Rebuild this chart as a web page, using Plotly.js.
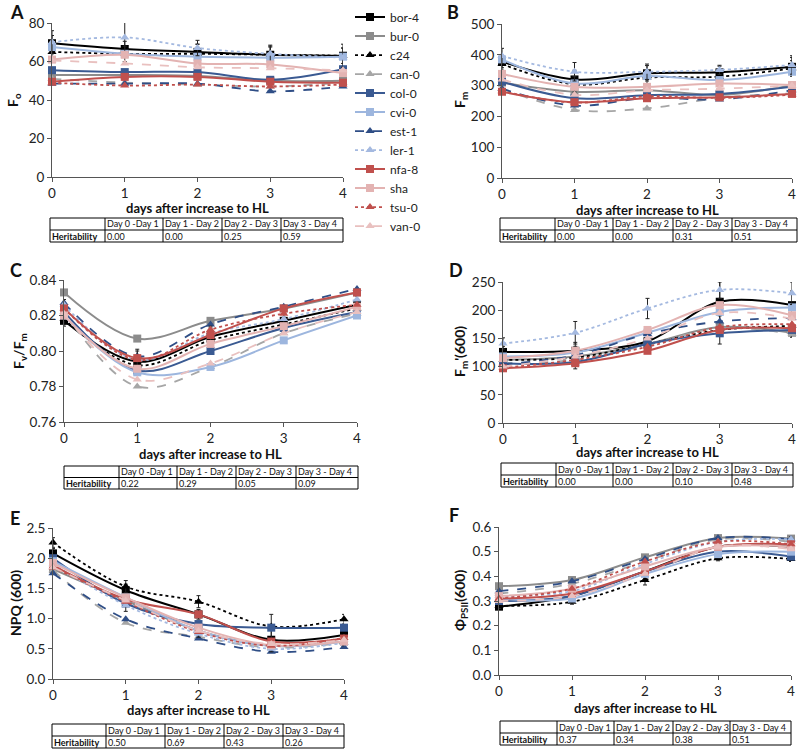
<!DOCTYPE html>
<html><head><meta charset="utf-8">
<script src="https://cdn.plot.ly/plotly-3.0.1.min.js"></script>
<style>body{margin:0;padding:0;background:#fff}#chart{width:798px;height:750px}</style>
</head><body><div id="chart"></div>
<script>
// ---------- DATA ----------
const days = [0, 1, 2, 3, 4];
const accessions = ["bor-4","bur-0","c24","can-0","col-0","cvi-0","est-1","ler-1","nfa-8","sha","tsu-0","van-0"];

// Panel A: Fo
const foValues = [
  [69.5, 66.5, 65, 63.5, 63],
  [53, 53, 52.5, 50, 50],
  [65, 64, 64, 63.5, 63],
  [51, 49, 48, 47, 49],
  [55.5, 54.5, 54.5, 50.5, 56],
  [67.5, 64, 62.5, 62, 62.5],
  [48.5, 48.5, 48.5, 44.5, 47],
  [70, 72.5, 67, 64, 62],
  [49.5, 52, 52, 49.5, 49],
  [61, 63.5, 59, 58.5, 54],
  [49, 47.5, 48, 47, 48],
  [60.5, 59, 57, 56.5, 55.5]
];
// Panel B: Fm
const fmValues = [
  [378, 320, 340, 343, 361],
  [310, 280, 285, 270, 300],
  [370, 304, 326, 329, 356],
  [290, 221, 226, 260, 275],
  [313, 259, 269, 273, 296],
  [385, 307, 331, 318, 345],
  [290, 235, 260, 255, 285],
  [396, 345, 345, 351, 367],
  [280, 246, 259, 262, 273],
  [338, 296, 296, 307, 302],
  [282, 245, 265, 260, 270],
  [320, 270, 285, 290, 300]
];
// Panel C: Fv/Fm
const fvfmValues = [
  [0.817, 0.794, 0.808, 0.817, 0.826],
  [0.833, 0.807, 0.817, 0.824, 0.833],
  [0.818, 0.792, 0.806, 0.815, 0.824],
  [0.822, 0.780, 0.791, 0.810, 0.821],
  [0.822, 0.789, 0.800, 0.813, 0.822],
  [0.820, 0.788, 0.791, 0.806, 0.820],
  [0.827, 0.797, 0.815, 0.825, 0.835],
  [0.826, 0.795, 0.810, 0.818, 0.829],
  [0.824, 0.796, 0.809, 0.824, 0.833],
  [0.820, 0.790, 0.804, 0.814, 0.825],
  [0.824, 0.795, 0.812, 0.821, 0.826],
  [0.821, 0.784, 0.793, 0.810, 0.822]
];
// Panel D: Fm'(600)
const fmpValues = [
  [126, 128, 145, 215, 209],
  [112, 118, 140, 170, 160],
  [112, 116, 140, 165, 172],
  [106, 112, 138, 168, 158],
  [106, 108, 140, 159, 165],
  [118, 125, 160, 197, 205],
  [104, 120, 158, 180, 186],
  [141, 160, 203, 236, 230],
  [97, 106, 128, 165, 168],
  [115, 128, 165, 209, 191],
  [98, 112, 135, 170, 175],
  [100, 118, 150, 195, 185]
];
// Panel E: NPQ(600)
const npqValues = [
  [2.08, 1.47, 1.07, 0.65, 0.73],
  [1.82, 1.30, 0.80, 0.55, 0.62],
  [2.26, 1.53, 1.28, 0.87, 0.99],
  [1.80, 0.93, 0.70, 0.52, 0.60],
  [2.00, 1.25, 0.91, 0.85, 0.85],
  [1.95, 1.35, 0.80, 0.55, 0.62],
  [1.75, 0.99, 0.67, 0.45, 0.53],
  [1.90, 1.22, 0.75, 0.50, 0.60],
  [1.88, 1.32, 1.07, 0.62, 0.67],
  [1.92, 1.35, 0.85, 0.56, 0.62],
  [1.85, 1.28, 0.78, 0.55, 0.68],
  [1.85, 1.30, 0.80, 0.58, 0.65]
];
// Panel F: PhiPSII(600)
const phiValues = [
  [0.277, 0.32, 0.42, 0.52, 0.52],
  [0.36, 0.385, 0.477, 0.555, 0.553],
  [0.28, 0.297, 0.385, 0.473, 0.47],
  [0.33, 0.37, 0.46, 0.55, 0.54],
  [0.30, 0.32, 0.42, 0.50, 0.48],
  [0.31, 0.31, 0.41, 0.49, 0.50],
  [0.34, 0.38, 0.47, 0.555, 0.55],
  [0.32, 0.34, 0.45, 0.54, 0.55],
  [0.31, 0.33, 0.42, 0.52, 0.53],
  [0.32, 0.35, 0.44, 0.52, 0.52],
  [0.31, 0.35, 0.46, 0.54, 0.53],
  [0.30, 0.32, 0.41, 0.52, 0.51]
];
// error bars (estimated) for bor-4, c24, ler-1
const foErr   = [[4,4,4,4,4],[5,4,5,5,6],[6,8,4,4,5]];
const fmErr   = [[20,30,25,20,30],[20,25,20,20,25],[25,30,25,15,30]];
const fvfmErr = [[0.003,0.006,0.005,0.006,0.005],[0.003,0.005,0.006,0.004,0.004],[0.003,0.006,0.004,0.003,0.004]];
const fmpErr  = [[10,15,20,35,25],[10,20,15,25,20],[10,20,18,15,20]];
const npqErr  = [[0.08,0.1,0.08,0.2,0.08],[0.08,0.1,0.1,0.2,0.08],[0.05,0.1,0.06,0.05,0.05]];
const phiErr  = [[0.01,0.01,0.02,0.01,0.02],[0.01,0.01,0.02,0.01,0.01],[0.01,0.01,0.01,0.01,0.01]];

const tableHeader = ["", "Day 0 -Day 1", "Day 1 - Day 2", "Day 2 - Day 3", "Day 3 - Day 4"];
const rowLabel = "Heritability";
const heritA = ["0.00", "0.00", "0.25", "0.59"];
const heritB = ["0.00", "0.00", "0.31", "0.51"];
const heritC = ["0.22", "0.29", "0.05", "0.09"];
const heritD = ["0.00", "0.00", "0.10", "0.48"];
const heritE = ["0.50", "0.69", "0.43", "0.26"];
const heritF = ["0.37", "0.34", "0.38", "0.51"];

// ---------- STYLE ----------
const W = 798, H = 750;
const FONT = "Lato, Carlito, 'Liberation Sans', Arial, sans-serif";
const styles = [
  {c:"#000000", d:"solid", s:"square"},
  {c:"#8c8c8c", d:"solid", s:"square"},
  {c:"#000000", d:"dot", s:"triangle-up"},
  {c:"#a6a6a6", d:"dash", s:"triangle-up"},
  {c:"#3a5a92", d:"solid", s:"square"},
  {c:"#9db6de", d:"solid", s:"square"},
  {c:"#2f4e86", d:"dash", s:"triangle-up"},
  {c:"#a4b9e0", d:"dot", s:"triangle-up"},
  {c:"#c0504d", d:"solid", s:"square"},
  {c:"#e3b3b2", d:"solid", s:"square"},
  {c:"#c0504d", d:"dot", s:"triangle-up"},
  {c:"#e9c0bf", d:"dash", s:"triangle-up"}
];
const errIdx = {0:0, 2:1, 7:2};

function px(x){return x/W;}
function py(y){return 1 - y/H;}

const panels = [
  {vals:foValues, err:foErr, xd:[52,343], yd:[177,23], range:[0,80], dtick:20, fmt:"", herit:heritA,
   tx:[50,105,163,222,281,343], ty:[218,242]},
  {vals:fmValues, err:fmErr, xd:[502,792], yd:[178,24], range:[0,500], dtick:100, fmt:"", herit:heritB,
   tx:[500,555,613,673,732,797], ty:[218,242]},
  {vals:fvfmValues, err:fvfmErr, xd:[64,357], yd:[422,280], range:[0.76,0.84], dtick:0.02, fmt:".2f", herit:heritC,
   tx:[64,119,177,236,296,358], ty:[466,489]},
  {vals:fmpValues, err:fmpErr, xd:[503,792], yd:[423,282], range:[0,250], dtick:50, fmt:"", herit:heritD,
   tx:[501,556,613,673,732,793], ty:[463,487]},
  {vals:npqValues, err:npqErr, xd:[53,344], yd:[679,528], range:[0,2.5], dtick:0.5, fmt:".1f", herit:heritE,
   tx:[52,106,165,224,283,344], ty:[724,748]},
  {vals:phiValues, err:phiErr, xd:[499,791], yd:[675,527], range:[0,0.6], dtick:0.1, fmt:".1f", herit:heritF,
   tx:[500,557,614,673,730,791], ty:[721,745]}
];

const traces = [];
const layout = {
  width: W, height: H,
  margin: {l:0, r:0, t:0, b:0, autoexpand: false},
  paper_bgcolor: "#fff", plot_bgcolor: "rgba(0,0,0,0)",
  font: {family: FONT, color: "#222", size: 12},
  showlegend: true,
  legend: {x: px(350), y: 0.9966, xanchor: "left", yanchor: "top", bgcolor: "rgba(0,0,0,0)",
           font: {size: 12, color: "#222", family: FONT}, itemwidth: 30, tracegroupgap: 0},
  annotations: [],
  shapes: []
};

panels.forEach((p, pi) => {
  const n = pi + 1;
  const xa = "x" + (n === 1 ? "" : n), ya = "y" + (n === 1 ? "" : n);
  const xk = "xaxis" + (n === 1 ? "" : n), yk = "yaxis" + (n === 1 ? "" : n);
  layout[xk] = {
    domain: [px(p.xd[0]), px(p.xd[1])], range: [0, 4], anchor: ya,
    tickvals: days, ticktext: days.map(String),
    showline: true, linecolor: "#555", linewidth: 1, showgrid: false, zeroline: false,
    ticks: "outside", ticklen: 4, tickcolor: "#555", tickfont: {size: 13.5, family: FONT}
  };
  layout[yk] = {
    domain: [py(p.yd[0]), py(p.yd[1])], range: p.range, anchor: xa, dtick: p.dtick, tick0: p.range[0],
    tickformat: p.fmt,
    showline: true, linecolor: "#555", linewidth: 1, showgrid: false, zeroline: false,
    ticks: "outside", ticklen: 4, tickcolor: "#555", tickfont: {size: 13.5, family: FONT}
  };
  accessions.forEach((name, si) => {
    const st = styles[si];
    const t = {
      type: "scatter", mode: "lines+markers", x: days, y: p.vals[si], name: name,
      xaxis: xa, yaxis: ya, showlegend: pi === 0,
      line: {color: st.c, dash: st.d, width: st.d === "solid" ? 2 : 1.8, shape: "spline", smoothing: 1},
      marker: {symbol: st.s, size: 8, color: st.c},
      cliponaxis: false
    };
    if (errIdx[si] !== undefined) {
      t.error_y = {type: "data", array: p.err[errIdx[si]], visible: true, color: "#222", thickness: 1, width: 2};
    }
    traces.push(t);
  });
  // table drawn with shapes + annotations
  const x0 = px(p.tx[0]), x1 = px(p.tx[5]);
  const yTop = py(p.ty[0]), yBot = py(p.ty[1]), yMid = py((p.ty[0] + p.ty[1]) / 2);
  const ln = {color: "#000", width: 1};
  layout.shapes.push({type: "rect", xref: "paper", yref: "paper", x0: x0, x1: x1, y0: yBot, y1: yTop, line: ln});
  layout.shapes.push({type: "line", xref: "paper", yref: "paper", x0: x0, x1: x1, y0: yMid, y1: yMid, line: ln});
  for (let k = 1; k < 5; k++) {
    layout.shapes.push({type: "line", xref: "paper", yref: "paper", x0: px(p.tx[k]), x1: px(p.tx[k]), y0: yBot, y1: yTop, line: ln});
  }
  const rowH = (p.ty[1] - p.ty[0]) / 2;
  const cellFont = {size: 9, color: "#111", family: FONT};
  for (let k = 1; k < 5; k++) {
    layout.annotations.push({text: tableHeader[k], x: px(p.tx[k] + 1), y: py(p.ty[0] + rowH / 2),
      xref: "paper", yref: "paper", xanchor: "left", yanchor: "middle", showarrow: false, font: cellFont,
      borderpad: 0});
    layout.annotations.push({text: p.herit[k - 1], x: px(p.tx[k] + 1), y: py(p.ty[0] + rowH * 1.5),
      xref: "paper", yref: "paper", xanchor: "left", yanchor: "middle", showarrow: false, font: cellFont,
      borderpad: 0});
  }
  layout.annotations.push({text: "<b>" + rowLabel + "</b>", x: px(p.tx[0] + 1), y: py(p.ty[0] + rowH * 1.5),
    xref: "paper", yref: "paper", xanchor: "left", yanchor: "middle", showarrow: false, font: cellFont, borderpad: 0});
});

// panel letters
[["A",8,12],["B",445,12],["C",8,270],["D",447,270],["E",8,518],["F",447,515]].forEach(a => {
  layout.annotations.push({text: "<b>" + a[0] + "</b>", x: px(a[1]), y: py(a[2]), xref: "paper", yref: "paper",
    xanchor: "left", yanchor: "middle", showarrow: false, font: {size: 18, color: "#111", family: FONT}});
});
// x titles
[[197,208],[647,210],[210,454],[647,452],[198,710],[645,708]].forEach(a => {
  layout.annotations.push({text: "<b>days after increase to HL</b>", x: px(a[0]), y: py(a[1]), xref: "paper", yref: "paper",
    xanchor: "center", yanchor: "middle", showarrow: false, font: {size: 13, color: "#111", family: FONT}});
});
// y titles
[["F<sub>o</sub>",14,100],["F<sub>m</sub>",461,100],["F<sub>v</sub>/F<sub>m</sub>",19,351],
 ["F<sub>m</sub>'(600)",460,352],["NPQ (600)",15,603],["Φ<sub>PSII</sub>(600)",460,601]].forEach(a => {
  layout.annotations.push({text: "<b>" + a[0] + "</b>", x: px(a[1]), y: py(a[2]), xref: "paper", yref: "paper",
    xanchor: "center", yanchor: "middle", textangle: -90, showarrow: false, font: {size: 14, color: "#111", family: FONT}});
});

Plotly.newPlot("chart", traces, layout, {staticPlot: true});
</script>
</body></html>
